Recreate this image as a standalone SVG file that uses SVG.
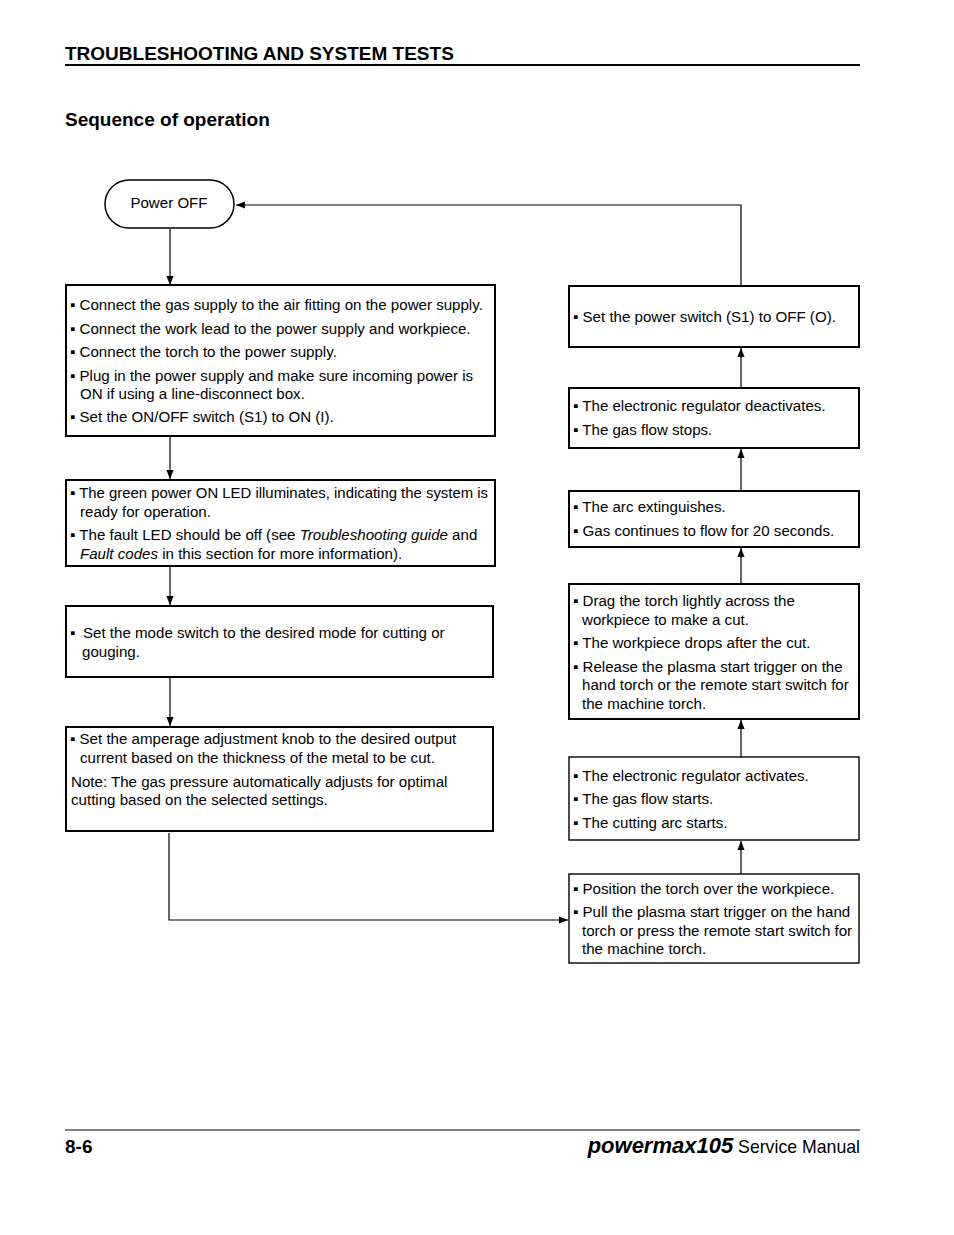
<svg xmlns="http://www.w3.org/2000/svg" width="954" height="1235" viewBox="0 0 954 1235">
<defs>
<marker id="ah" viewBox="0 0 10 10" refX="10" refY="5" markerWidth="9" markerHeight="9" markerUnits="userSpaceOnUse" orient="auto">
<path d="M0,1 L10,5 L0,9 z" fill="#000"/>
</marker>
<style>
text{font-family:"Liberation Sans","DejaVu Sans",sans-serif;fill:#000}
.h{font-size:19px;font-weight:bold}
.t{font-size:15.1px}
.box{fill:#fff;stroke:#000;stroke-width:2}
.thin{stroke-width:1.4}
.c{fill:none;stroke:#000;stroke-width:1.2}
</style>
</defs>
<rect width="954" height="1235" fill="#fff"/>
<text class="h" x="65" y="60">TROUBLESHOOTING AND SYSTEM TESTS</text>
<line x1="65" y1="65" x2="860" y2="65" stroke="#000" stroke-width="2"/>
<text class="h" x="65" y="126">Sequence of operation</text>

<g id="connectors">
<line class="c" x1="170" y1="229" x2="170" y2="285" marker-end="url(#ah)"/>
<line class="c" x1="170" y1="437" x2="170" y2="479" marker-end="url(#ah)"/>
<line class="c" x1="170" y1="567" x2="170" y2="605" marker-end="url(#ah)"/>
<line class="c" x1="170" y1="678" x2="170" y2="726" marker-end="url(#ah)"/>
<polyline class="c" points="169,833 169,920 568,920" marker-end="url(#ah)"/>
<line class="c" x1="741" y1="874" x2="741" y2="841" marker-end="url(#ah)"/>
<line class="c" x1="741" y1="757" x2="741" y2="720" marker-end="url(#ah)"/>
<line class="c" x1="741" y1="584" x2="741" y2="548" marker-end="url(#ah)"/>
<line class="c" x1="741" y1="491" x2="741" y2="449" marker-end="url(#ah)"/>
<line class="c" x1="741" y1="388" x2="741" y2="348" marker-end="url(#ah)"/>
<polyline class="c" points="741,285 741,205 236,205" marker-end="url(#ah)"/>
</g>

<g id="power-off">
<rect x="105" y="180" width="129" height="48" rx="24" ry="24" fill="#fff" stroke="#000" stroke-width="1.5"/>
<text class="t" x="169" y="208" text-anchor="middle">Power OFF</text>
</g>

<g id="setup">
<rect class="box" x="66" y="285" width="429" height="151"/>
<text class="t" x="70" y="310">▪ Connect the gas supply to the air fitting on the power supply.</text>
<text class="t" x="70" y="334">▪ Connect the work lead to the power supply and workpiece.</text>
<text class="t" x="70" y="357">▪ Connect the torch to the power supply.</text>
<text class="t" x="70" y="381">▪ Plug in the power supply and make sure incoming power is</text>
<text class="t" x="80" y="399">ON if using a line-disconnect box.</text>
<text class="t" x="70" y="422">▪ Set the ON/OFF switch (S1) to ON (I).</text>
</g>

<g id="led">
<rect class="box" x="66" y="480" width="429" height="86"/>
<text class="t" x="70" y="498" textLength="418" lengthAdjust="spacingAndGlyphs">▪ The green power ON LED illuminates, indicating the system is</text>
<text class="t" x="80" y="517">ready for operation.</text>
<text class="t" x="70" y="540">▪ The fault LED should be off (see <tspan font-style="italic">Troubleshooting guide</tspan> and</text>
<text class="t" x="80" y="559"><tspan font-style="italic">Fault codes</tspan> in this section for more information).</text>
</g>

<g id="mode">
<rect class="box" x="66" y="606" width="427" height="71"/>
<text class="t" x="70" y="638">▪</text>
<text class="t" x="83" y="638">Set the mode switch to the desired mode for cutting or</text>
<text class="t" x="82" y="657">gouging.</text>
</g>

<g id="amperage">
<rect class="box" x="66" y="727" width="427" height="104"/>
<text class="t" x="70" y="744">▪ Set the amperage adjustment knob to the desired output</text>
<text class="t" x="80" y="763">current based on the thickness of the metal to be cut.</text>
<text class="t" x="71" y="787">Note: The gas pressure automatically adjusts for optimal</text>
<text class="t" x="71" y="805">cutting based on the selected settings.</text>
</g>

<g id="power-switch-off">
<rect class="box" x="569" y="286" width="290" height="61"/>
<text class="t" x="573" y="322">▪ Set the power switch (S1) to OFF (O).</text>
</g>

<g id="regulator-off">
<rect class="box" x="569" y="388" width="290" height="60"/>
<text class="t" x="573" y="411">▪ The electronic regulator deactivates.</text>
<text class="t" x="573" y="435">▪ The gas flow stops.</text>
</g>

<g id="arc-extinguishes">
<rect class="box" x="569" y="491" width="290" height="56"/>
<text class="t" x="573" y="512">▪ The arc extinguishes.</text>
<text class="t" x="573" y="536">▪ Gas continues to flow for 20 seconds.</text>
</g>

<g id="cut">
<rect class="box" x="569" y="584" width="290" height="135"/>
<text class="t" x="573" y="606">▪ Drag the torch lightly across the</text>
<text class="t" x="582" y="625">workpiece to make a cut.</text>
<text class="t" x="573" y="648">▪ The workpiece drops after the cut.</text>
<text class="t" x="573" y="672">▪ Release the plasma start trigger on the</text>
<text class="t" x="582" y="690">hand torch or the remote start switch for</text>
<text class="t" x="582" y="709">the machine torch.</text>
</g>

<g id="regulator-on">
<rect class="box thin" x="569" y="757" width="290" height="83"/>
<text class="t" x="573" y="781">▪ The electronic regulator activates.</text>
<text class="t" x="573" y="804">▪ The gas flow starts.</text>
<text class="t" x="573" y="828">▪ The cutting arc starts.</text>
</g>

<g id="position">
<rect class="box thin" x="569" y="874" width="290" height="89"/>
<text class="t" x="573" y="894">▪ Position the torch over the workpiece.</text>
<text class="t" x="573" y="917">▪ Pull the plasma start trigger on the hand</text>
<text class="t" x="582" y="936">torch or press the remote start switch for</text>
<text class="t" x="582" y="954">the machine torch.</text>
</g>

<line x1="65" y1="1130" x2="860" y2="1130" stroke="#000" stroke-width="1"/>
<text class="h" x="65" y="1153">8-6</text>
<text x="860" y="1153" text-anchor="end" font-size="17.7"><tspan font-weight="bold" font-style="italic" font-size="22">powermax105</tspan> Service Manual</text>
</svg>
